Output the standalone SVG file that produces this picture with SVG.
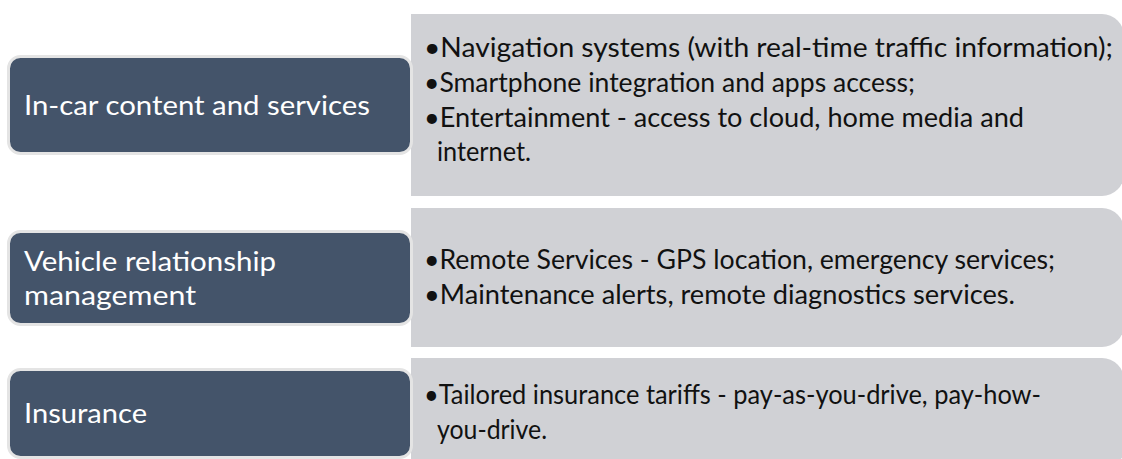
<svg xmlns="http://www.w3.org/2000/svg" width="1122" height="459" viewBox="0 0 1122 459">
  <style>
    .cat { fill: #44546a; stroke: #e4e4e4; stroke-width: 3; }
    .detail { fill: #d0d1d5; }
    .cat-text { font-family: Lato, "Open Sans", sans-serif; font-size: 27px; fill: #ffffff; }
    .detail-text { font-family: Lato, "Open Sans", sans-serif; font-size: 27px; fill: #111111; }
  </style>
  <rect width="1122" height="459" fill="#ffffff"/>

  <!-- Row 1 -->
  <g id="detail-incar">
    <path class="detail" d="M411,14 H1102 A22,22 0 0 1 1124,36 V174 A22,22 0 0 1 1102,196 H411 Z"/>
    <text class="detail-text" x="424" y="57" textLength="689" lengthAdjust="spacingAndGlyphs">•Navigation systems (with real-time traffic information);</text>
    <text class="detail-text" x="424" y="92" textLength="491" lengthAdjust="spacingAndGlyphs">•Smartphone integration and apps access;</text>
    <text class="detail-text" x="424" y="127" textLength="600" lengthAdjust="spacingAndGlyphs">•Entertainment - access to cloud, home media and</text>
    <text class="detail-text" x="437" y="161" textLength="94" lengthAdjust="spacingAndGlyphs">internet.</text>
  </g>
  <g id="node-incar">
    <rect class="cat" x="8.5" y="56.5" width="403" height="97" rx="12"/>
    <text class="cat-text" x="24" y="115" textLength="346" lengthAdjust="spacingAndGlyphs">In-car content and services</text>
  </g>

  <!-- Row 2 -->
  <g id="detail-vrm">
    <path class="detail" d="M411,208 H1102 A22,22 0 0 1 1124,230 V325 A22,22 0 0 1 1102,347 H411 Z"/>
    <text class="detail-text" x="424" y="269" textLength="631" lengthAdjust="spacingAndGlyphs">•Remote Services - GPS location, emergency services;</text>
    <text class="detail-text" x="424" y="304" textLength="591" lengthAdjust="spacingAndGlyphs">•Maintenance alerts, remote diagnostics services.</text>
  </g>
  <g id="node-vrm">
    <rect class="cat" x="8.5" y="231.5" width="403" height="93" rx="12"/>
    <text class="cat-text" x="24" y="271" textLength="252" lengthAdjust="spacingAndGlyphs">Vehicle relationship</text>
    <text class="cat-text" x="24" y="305" textLength="172" lengthAdjust="spacingAndGlyphs">management</text>
  </g>

  <!-- Row 3 -->
  <g id="detail-insurance">
    <path class="detail" d="M411,358 H1102 A22,22 0 0 1 1124,380 V448 A22,22 0 0 1 1102,470 H411 Z"/>
    <text class="detail-text" x="424" y="404" textLength="617" lengthAdjust="spacingAndGlyphs">•Tailored insurance tariffs - pay-as-you-drive, pay-how-</text>
    <text class="detail-text" x="437" y="439" textLength="110" lengthAdjust="spacingAndGlyphs">you-drive.</text>
  </g>
  <g id="node-insurance">
    <rect class="cat" x="8.5" y="369.5" width="403" height="88" rx="12"/>
    <text class="cat-text" x="24" y="423" textLength="123" lengthAdjust="spacingAndGlyphs">Insurance</text>
  </g>
</svg>
